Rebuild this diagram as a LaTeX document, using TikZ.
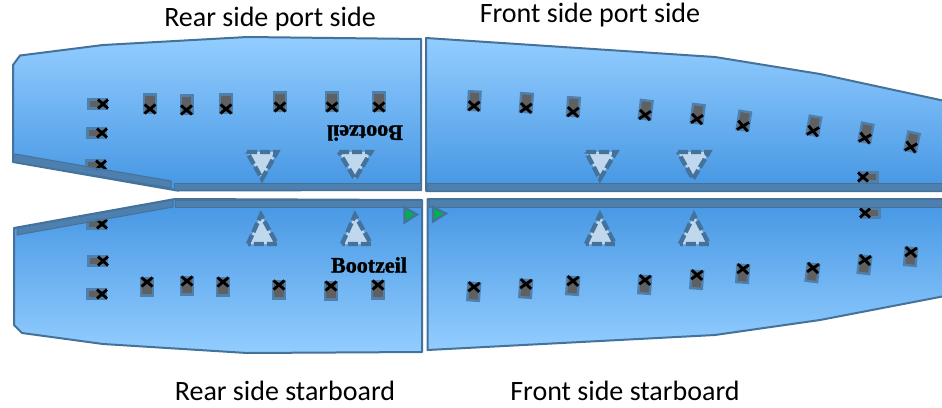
\documentclass[tikz,border=0pt]{standalone}
\usepackage{fontspec}
\setmainfont{Carlito}
\newfontfamily\boatfont{Liberation Serif}[BoldFeatures={FakeBold=1.5}]
\definecolor{hullline}{HTML}{44729B}
\definecolor{stripfill}{HTML}{4E7CA8}
\definecolor{hulllight}{HTML}{93CDFF}
\definecolor{hulldark}{HTML}{4596E3}
\definecolor{markfill}{HTML}{606060}
\definecolor{markline}{HTML}{4F7FAB}
\definecolor{arrowfill}{HTML}{BFD8EE}
\definecolor{greenfill}{HTML}{00B050}
\tikzset{
  hullup/.style={draw=hullline,line width=2pt,top color=hulllight,bottom color=hulldark,line join=round},
  hulldown/.style={draw=hullline,line width=2pt,top color=hulldark,bottom color=hulllight,line join=round},
  stripbar/.style={fill=stripfill,fill opacity=0.88,draw=hullline,line width=1pt},
  flowtri/.style={fill=arrowfill,draw=hullline,line width=4.4pt,dash pattern=on 10pt off 3pt},
  greentri/.style={fill=greenfill,draw=hullline,line width=2.2pt,line join=miter},
  title/.style={font=\fontsize{28}{32}\selectfont,inner sep=0pt},
  boatlabel/.style={font=\boatfont\bfseries\fontsize{22}{26}\selectfont,inner sep=0pt},
  crossmark/.style={black,line width=2.8pt},
  markbox/.style={fill=markfill,draw=markline,line width=2.4pt},
  pics/mk/.style={code={
    \draw[markbox] (-5.8,-14.5) rectangle (5.8,4);
    \draw[crossmark] (-5.5,-4.5) -- (5.5,4.5) (-5.5,4.5) -- (5.5,-4.5);
  }},
  pics/mkd/.style={code={
    \draw[markbox] (-5.8,13.5) rectangle (5.8,-4);
    \draw[crossmark] (-5.5,-4.5) -- (5.5,4.5) (-5.5,4.5) -- (5.5,-4.5);
  }},
  pics/mkh/.style={code={
    \draw[markbox] (-14.5,-4.5) rectangle (4,4.5);
    \draw[crossmark] (-5,-4.5) -- (5,4.5) (-5,4.5) -- (5,-4.5);
  }},
  pics/mkr/.style={code={
    \draw[markbox] (14.5,-4.5) rectangle (-4,4.5);
    \draw[crossmark] (-5,-4.5) -- (5,4.5) (-5,4.5) -- (5,-4.5);
  }},
}
\begin{document}
\begin{tikzpicture}[x=1pt,y=-1pt]
\useasboundingbox (0,0) rectangle (942,407);
% hulls
\path[hullup] (13,65) -- (20,55.5) -- (103,45) -- (247,37) -- (421,39) -- (421,190) -- (177,190.5) -- (13,162) -- cycle;
\path[hulldown] (14,228) -- (175,199) -- (422,200) -- (422,352) -- (247,353) -- (103,344) -- (22,333) -- (14,325) -- cycle;
\clip (0,0) rectangle (942,407);
\path[hullup] (426,38) -- (715,57) -- (820,74) -- (945,101) -- (945,191) -- (426,191) -- cycle;
\path[hulldown] (427.5,199) -- (945,199) -- (945,296) -- (820,320) -- (715,335) -- (427.5,350) -- cycle;
% markers rear port
\foreach \x/\y in {103/104,102/133,101/165} \pic at (\x,\y) {mkh};
\foreach \x/\y in {150/109,186.5/110,226/109,280/107,332/107,379/107} \pic at (\x,\y) {mk};
% markers rear starboard
\foreach \x/\y in {102/224,103/261,102/294} \pic at (\x,\y) {mkh};
\foreach \x/\y in {147/282,187/281,223/282,279/285,331/286,378/285} \pic at (\x,\y) {mkd};
% markers front port
\foreach \x/\y/\a in {474/106/-3,526/108/-4,573/112/-4,645/115/-7,697/119/-7,743/126/-9,813/131/-10,865/138/-11,911/147/-12}
  \pic[rotate=\a] at (\x,\y) {mk};
\pic at (863,177) {mkr};
% markers front starboard
\foreach \x/\y/\a in {474/287/4,526/284/4,573/281/4,645/280/4,697/275/4,743/269/4,813/268/7,865/260/7,911/252/5}
  \pic[rotate=-\a] at (\x,\y) {mkd};
\pic at (865,213) {mkr};
% strips
\path[stripbar] (15,154) -- (171,181) -- (171,188) -- (13,162) -- cycle;
\path[stripbar] (174,183.5) rectangle (421.5,190.5);
\path[stripbar] (427,183) rectangle (945,191);
\path[stripbar] (17,228) -- (173,200) -- (173,207) -- (17,235) -- cycle;
\path[stripbar] (175,200) rectangle (422,207);
\path[stripbar] (429,199) rectangle (945,207);
% flow triangles
\foreach \a/\b/\c in {247/277/262,339/371/355,586/616/600,678/709/693}
  \path[flowtri] (\a,152) -- (\b,152) -- (\c,179) -- cycle;
\foreach \a/\b/\c in {248/277/261,342/371/355,586/615/600,680/709/694}
  \path[flowtri] (\a,244) -- (\c,215) -- (\b,244) -- cycle;
% green triangles
\path[greentri] (404.5,207.5) -- (417,214.5) -- (404.5,222.5) -- cycle;
\path[greentri] (433,207) -- (446,213.5) -- (433,221.5) -- cycle;
% labels
\node[title] (rp) at (270,19) {Rear side port side};
\node[title] (fp) at (590,15) {Front side port side};
\node[title] (rs) at (285,391) {Rear side starboard};
\node[title] (fs) at (625,391) {Front side starboard};
\node[boatlabel,rotate=180] (bt) at (365,133) {Bootzeil};
\node[boatlabel] (bb) at (369,265) {Bootzeil};
\end{tikzpicture}
\end{document}
